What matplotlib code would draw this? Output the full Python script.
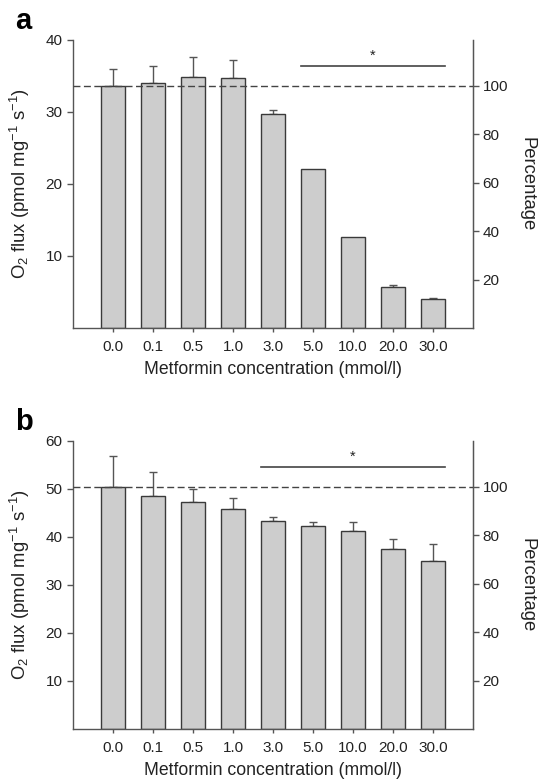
import numpy as np
import matplotlib
matplotlib.use("Agg")
import matplotlib.pyplot as plt

plt.rcParams['font.family'] = ['Liberation Sans', 'DejaVu Sans']
plt.rcParams['mathtext.fontset'] = 'custom'
plt.rcParams['mathtext.rm'] = 'Liberation Sans'
plt.rcParams['mathtext.it'] = 'Liberation Sans:italic'

concentrations = ["0.0", "0.1", "0.5", "1.0", "3.0", "5.0", "10.0", "20.0", "30.0"]

flux_a = [33.6, 34.0, 34.8, 34.7, 29.7, 22.0, 12.6, 5.7, 4.0]
err_a = [2.4, 2.3, 2.75, 2.5, 0.5, 0.0, 0.0, 0.2, 0.1]
ref_a = 33.6
sig_a = (5, 8, 36.3)   # first bar, last bar, height

flux_b = [50.5, 48.5, 47.3, 45.9, 43.4, 42.2, 41.3, 37.6, 35.1]
err_b = [6.3, 5.1, 2.8, 2.2, 0.85, 1.0, 1.9, 2.0, 3.5]
ref_b = 50.5
sig_b = (4, 8, 54.6)

edge = '#3a3a3a'
spine_col = '#555555'
txt = '#222222'
bar_w = 0.6


def panel(fig, rect, flux, err, ref, ymax, lticks, sig, letter, letter_y):
    ax = fig.add_axes(rect)
    x = np.arange(len(flux))
    ax.bar(x, flux, width=bar_w, color='#cdcdcd', edgecolor=edge, linewidth=1.0, zorder=2)
    e = np.array(err)
    mask = e > 0
    ax.errorbar(x[mask], np.array(flux)[mask], yerr=[np.zeros(mask.sum()), e[mask]],
                fmt='none', ecolor='#555555', elinewidth=1.0, capsize=3, capthick=1.0, zorder=1)
    ax.axhline(ref, color='#444444', lw=1.0, dashes=(5, 2.5), zorder=3)
    ax.set_xlim(-1, len(flux))
    ax.set_ylim(0, ymax)
    ax.set_yticks(lticks)
    ax.set_xticks(x)
    ax.set_xticklabels(concentrations)
    ax.tick_params(axis='x', length=3, width=1, direction='out', pad=6, labelsize=11,
                   color=spine_col, labelcolor=txt)
    ax.tick_params(axis='y', length=4, width=1, direction='out', pad=3.5,
                   labelsize=11, color=spine_col, labelcolor=txt)
    ax.spines['top'].set_visible(False)
    for s in ['left', 'bottom', 'right']:
        ax.spines[s].set_color(spine_col)
        ax.spines[s].set_linewidth(1.0)
    ax.set_xlabel("Metformin concentration (mmol/l)", fontsize=12.7, labelpad=5, color=txt)
    ax.set_ylabel("O$_2$ flux (pmol mg$^{-1}$ s$^{-1}$)", fontsize=13.3, color=txt)
    ax.yaxis.set_label_coords(-0.1025, 0.5)

    # significance bar
    i0, i1, h = sig
    ax.plot([i0 - bar_w / 2, i1 + bar_w / 2], [h, h], color='#444444', lw=1.2)
    ax.text((i0 + i1) / 2, h + ymax * 0.012, '*', ha='center', va='bottom', fontsize=10.5, color=txt)

    ax2 = ax.twinx()
    ax2.set_ylim(0, ymax * 100 / ref)
    ax2.set_yticks([20, 40, 60, 80, 100])
    ax2.tick_params(axis='y', length=4, width=1, direction='out', pad=3,
                    labelsize=11, color=spine_col, labelcolor=txt)
    for s in ['top', 'left', 'bottom']:
        ax2.spines[s].set_visible(False)
    ax2.spines['right'].set_color(spine_col)
    ax2.set_ylabel("Percentage", fontsize=13.3, rotation=270, va='bottom', color=txt)
    ax2.yaxis.set_label_coords(1.1125, 0.5)

    fig.text(0.027, letter_y, letter, fontsize=21, fontweight='bold', va='baseline')
    return ax


fig = plt.figure(figsize=(5.42, 7.79), dpi=100)
panel(fig, [0.1347, 0.579, 0.738, 0.370], flux_a, err_a, ref_a, 40, [10, 20, 30, 40],
      sig_a, 'a', 0.963)
panel(fig, [0.1347, 0.0642, 0.738, 0.3697], flux_b, err_b, ref_b, 60, [10, 20, 30, 40, 50, 60],
      sig_b, 'b', 0.448)

fig.savefig("out.png", dpi=100)
